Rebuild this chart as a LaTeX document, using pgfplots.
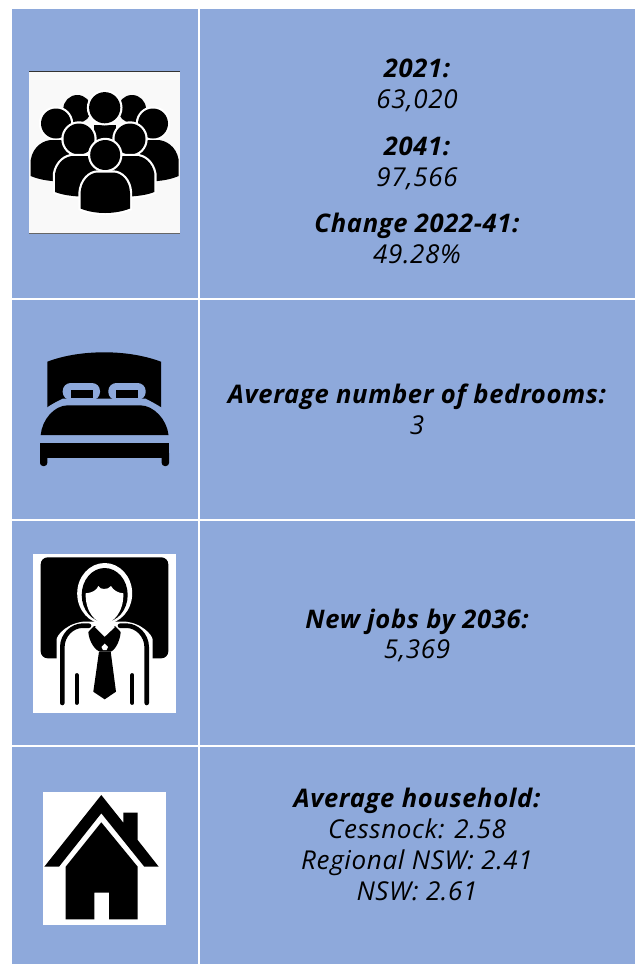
\documentclass[border=0pt]{standalone}
\usepackage{pgfplots}
\pgfplotsset{compat=1.18}
\usepackage{fontspec}
\setmainfont{Open Sans}[LetterSpace=2.5]
\definecolor{panel}{HTML}{8EA9DB}
\tikzset{halo/.style={preaction={draw=white,line width=2.2pt},fill=black}}
\newcommand{\tb}[2]{\node[anchor=base,inner sep=0pt] at (417,#1) {\fontsize{12.8}{16}\selectfont\bfseries\itshape #2};}
\newcommand{\tn}[2]{\node[anchor=base,inner sep=0pt] at (417,#1) {\fontsize{13}{16}\selectfont\itshape #2};}
\begin{document}
\begin{tikzpicture}
\begin{axis}[hide axis,scale only axis,width=320pt,height=482pt,xmin=0,xmax=640,ymin=0,ymax=964,y dir=reverse,clip=false,axis on top=false]
\addplot[fill=white,draw=none,forget plot] coordinates {(0,0)(640,0)(640,964)(0,964)} -- cycle;
% panels
\addplot[fill=panel,draw=none,forget plot] coordinates {(12,9)(198,9)(198,298)(12,298)} -- cycle;
\addplot[fill=panel,draw=none,forget plot] coordinates {(200,9)(635,9)(635,298)(200,298)} -- cycle;
\addplot[fill=panel,draw=none,forget plot] coordinates {(12,300)(198,300)(198,518.5)(12,518.5)} -- cycle;
\addplot[fill=panel,draw=none,forget plot] coordinates {(200,300)(635,300)(635,518.5)(200,518.5)} -- cycle;
\addplot[fill=panel,draw=none,forget plot] coordinates {(12,520.5)(198,520.5)(198,745)(12,745)} -- cycle;
\addplot[fill=panel,draw=none,forget plot] coordinates {(200,520.5)(635,520.5)(635,745)(200,745)} -- cycle;
\addplot[fill=panel,draw=none,forget plot] coordinates {(12,747)(198,747)(198,964)(12,964)} -- cycle;
\addplot[fill=panel,draw=none,forget plot] coordinates {(200,747)(635,747)(635,964)(200,964)} -- cycle;
% icon 1: people
\fill[color={rgb,255:red,249;green,249;blue,249}] (29,71) rectangle (180,233);
\draw[black!80,line width=0.4pt] (29,71) -- (180,71);
\draw[black!60,line width=0.4pt] (29,233) -- (180,233);
\fill[black] (77.3,109) circle[radius=14];
\fill[black] (132,109) circle[radius=14];
\fill[black] (94,125) rectangle (116,140);
\path[halo] (104.7,107.7) circle[radius=15.6];
\path[halo] (56,123.5) circle[radius=15];
\path[halo] (153,123.5) circle[radius=15];
\path[fill=black] (30.7,176) -- (30.7,160) .. controls (33,146) and (44,140) .. (52,140) -- (70,140) -- (70,181.5) .. controls (52,182) and (40,180) .. (30.7,176) -- cycle;
\path[fill=black] (178.7,176) -- (178.7,160) .. controls (176.4,146) and (165.4,140) .. (157.4,140) -- (139.4,140) -- (139.4,181.5) .. controls (157.4,182) and (169.4,180) .. (178.7,176) -- cycle;
\path[halo] (79,139) circle[radius=15.5];
\path[halo] (130,139) circle[radius=15.5];
\path[halo] (55,192) -- (55,174) .. controls (57,162) and (66,156) .. (73,156) -- (100,156) -- (100,197) .. controls (78,197) and (65,196) .. (55,192) -- cycle;
\path[halo] (154.4,192) -- (154.4,174) .. controls (152.4,162) and (143.4,156) .. (136.4,156) -- (109.4,156) -- (109.4,197) .. controls (131.4,197) and (144.4,196) .. (154.4,192) -- cycle;
\path[halo] (105.2,155) circle[radius=15];
\path[halo] (80.5,208.5) -- (80.5,193) .. controls (81.5,180) and (90,172.5) .. (98,172.5) -- (113,172.5) .. controls (121,172.5) and (129.5,180) .. (130,193) -- (130,208.5) .. controls (115,214.5) and (95,214.5) .. (80.5,208.5) -- cycle;
% icon 2: bed
\fill[black] (47.3,407.3) -- (47.3,361.7) .. controls (65,355) and (85,352.3) .. (104.3,352.3) .. controls (123,352.3) and (143,355) .. (161,361.7) -- (161,407.3) -- cycle;
\fill[panel] (47.3,407.3) .. controls (52,404) and (57,401.5) .. (62.7,398.7) -- (145.7,398.7) .. controls (151,401.5) and (156,404) .. (161,407.3) -- (161,415) -- (47.3,415) -- cycle;
\fill[panel,rounded corners=4pt] (62.7,400) -- (62.7,383) -- (100,383) -- (100,400) -- cycle;
\fill[panel,rounded corners=4pt] (108.3,400) -- (108.3,383) -- (145.7,383) -- (145.7,400) -- cycle;
\fill[black] (70.7,390) rectangle (93.3,397.7);
\fill[black] (115.7,390) rectangle (138.3,397.7);
\fill[black] (40.7,435) .. controls (42,420) and (54,405.3) .. (68,405.3) -- (140,405.3) .. controls (154,405.3) and (167,420) .. (168.5,435) -- cycle;
\fill[black] (40,443.3) rectangle (169,458.3);
\fill[black,rounded corners=1.5pt] (40,450) -- (40,466) -- (47.3,466) -- (47.3,450) -- cycle;
\fill[black,rounded corners=1.5pt] (161.7,450) -- (161.7,466) -- (169,466) -- (169,450) -- cycle;
% icon 3: person
\fill[white] (33,554) rectangle (176,713);
\fill[black,rounded corners=3.5pt] (40.7,557.3) rectangle (168.3,658.3);
\fill[white,rounded corners=0pt] (56.5,665) -- (56.5,640) .. controls (56.5,635) and (68,622) .. (86,621.5) -- (123,621.5) .. controls (141,622) and (152.7,635) .. (152.7,640) -- (152.7,665) -- cycle;
\fill[white] (104.7,593.5) ellipse[x radius=27.5,y radius=30.5];
\fill[black] (104.7,595) ellipse[x radius=23,y radius=27];
\fill[white] (85.7,593.3) .. controls (92,593) and (97,590) .. (98.3,586) .. controls (100,590) and (108,590) .. (111,586) .. controls (113,590) and (118,593) .. (123.3,593.3) .. controls (124,612) and (113,623.3) .. (104.7,623.3) .. controls (96,623.3) and (85,612) .. (85.7,593.3) -- cycle;
\draw[black,line width=2.3pt,line cap=round] (62.3,703) -- (62.3,647) .. controls (62.5,635) and (72,626) .. (82,625.7) -- (89,625.7);
\draw[black,line width=2.3pt,line cap=round] (146.7,703) -- (146.7,647) .. controls (146.5,635) and (137,626) .. (127,625.7) -- (120,625.7);
\draw[black,line width=1.9pt,line cap=round] (76.7,675) -- (76.7,703);
\draw[black,line width=1.9pt,line cap=round] (132.3,675) -- (132.3,703);
\fill[black] (88.3,632) .. controls (89,642) and (96,651.7) .. (101,651.7) -- (110,651.7) .. controls (114,651.7) and (120,642) .. (120.7,632) -- (115,626) -- (94,626) -- cycle;
\fill[white] (95,627) -- (104.7,636.7) -- (115,627) -- (110,623) -- (100,623) -- cycle;
\fill[white] (104.7,643.5) -- (108,647) -- (106.5,650) -- (103,650) -- (101.5,647) -- cycle;
\fill[black] (99,651.7) -- (110.7,651.7) -- (116,691.7) -- (104.7,699.3) -- (93.3,691.7) -- cycle;
% icon 4: house
\fill[white] (43,792) rectangle (166,925);
\fill[black] (44.3,866.7) -- (101.3,795) -- (123.3,822.7) -- (123.3,812.7) -- (137.7,812.7) -- (137.7,840) -- (158.7,866.7) -- (144.3,866.7) -- (101.3,813.3) -- (59,866.7) -- cycle;
\fill[black] (65.7,866.7) -- (101.3,822.3) -- (137.7,866.7) -- (137.7,919.3) -- (109,919.3) -- (109,892.7) -- (94.3,892.7) -- (94.3,919.3) -- (65.7,919.3) -- cycle;
% text
\tb{77}{2021:}
\tn{108}{63,020}
\tb{155}{2041:}
\tn{186}{97,566}
\tb{232.7}{Change 2022-41:}
\tn{263.3}{49.28\%}
\tb{403}{Average number of bedrooms:}
\tn{434}{3}
\tb{628}{New jobs by 2036:}
\tn{658}{5,369}
\tb{807}{Average household:}
\tn{838}{Cessnock: 2.58}
\tn{869}{Regional NSW: 2.41}
\tn{900}{NSW: 2.61}
\end{axis}
\end{tikzpicture}
\end{document}
